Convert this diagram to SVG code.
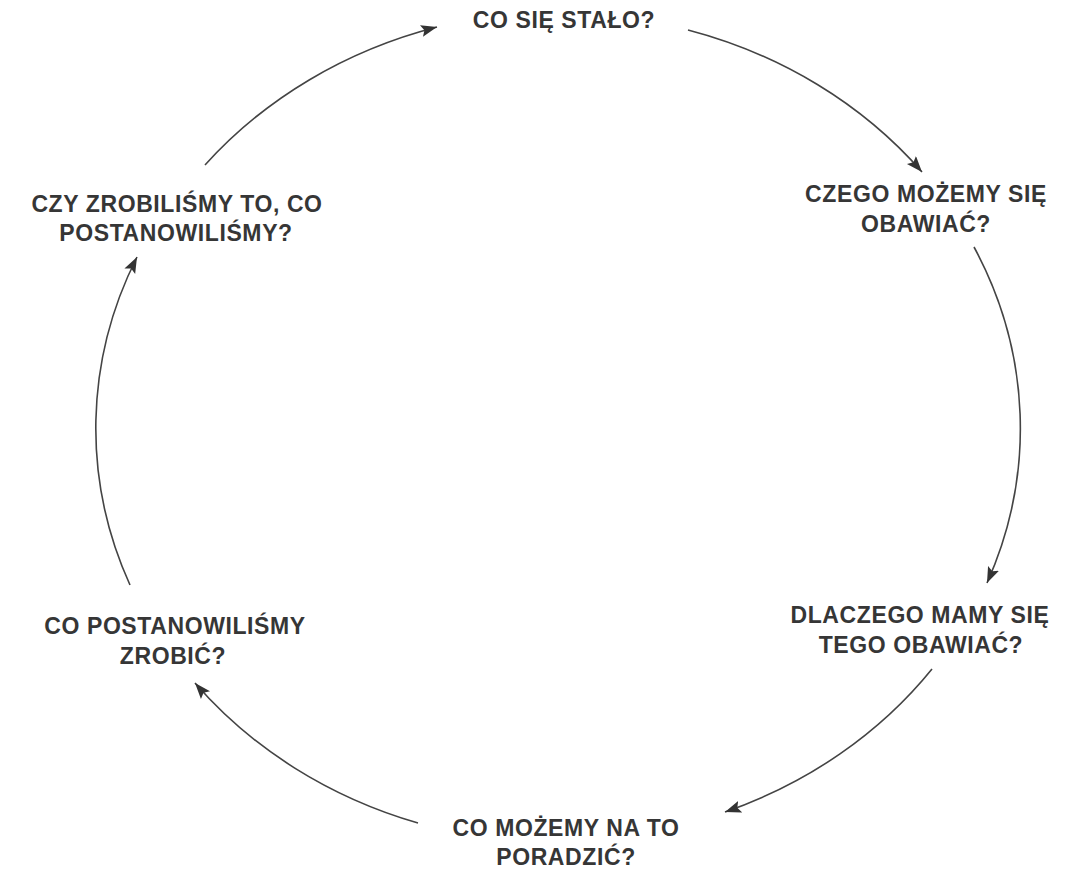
<svg xmlns="http://www.w3.org/2000/svg" width="1076" height="875" viewBox="0 0 1076 875">
<style>
.lbl{font-family:"Liberation Sans",Arial,sans-serif;font-weight:bold;font-size:23px;letter-spacing:0.6px;fill:#363636;text-anchor:middle}
.arc{fill:none;stroke:#444;stroke-width:1.6}
</style>
<defs>
<marker id="ah" markerUnits="userSpaceOnUse" markerWidth="18" markerHeight="14" refX="16" refY="6" orient="auto">
<path d="M0,0 L16,6 L0,12 L3,6 z" fill="#333"/>
</marker>
</defs>
<rect width="1076" height="875" fill="#fff"/>
<g id="connectors">
<path class="arc" d="M688,30 A462,415 0 0 1 922,172" marker-end="url(#ah)"/>
<path class="arc" d="M974,247 A462,415 0 0 1 987,583" marker-end="url(#ah)"/>
<path class="arc" d="M932,669 A462,415 0 0 1 725,812" marker-end="url(#ah)"/>
<path class="arc" d="M418,823 A462,415 0 0 1 195,683" marker-end="url(#ah)"/>
<path class="arc" d="M130,585 A462,415 0 0 1 137,257" marker-end="url(#ah)"/>
<path class="arc" d="M205,165 A462,415 0 0 1 437,27" marker-end="url(#ah)"/>
</g>
<g id="n1"><text class="lbl" x="564" y="28">CO SIĘ STAŁO?</text></g>
<g id="n2"><text class="lbl" x="926" y="202">CZEGO MOŻEMY SIĘ</text><text class="lbl" x="926" y="232">OBAWIAĆ?</text></g>
<g id="n3"><text class="lbl" x="920" y="623">DLACZEGO MAMY SIĘ</text><text class="lbl" x="921" y="653">TEGO OBAWIAĆ?</text></g>
<g id="n4"><text class="lbl" x="566" y="836">CO MOŻEMY NA TO</text><text class="lbl" x="566" y="865">PORADZIĆ?</text></g>
<g id="n5"><text class="lbl" x="175" y="634">CO POSTANOWILIŚMY</text><text class="lbl" x="173" y="664">ZROBIĆ?</text></g>
<g id="n6"><text class="lbl" x="177" y="212">CZY ZROBILIŚMY TO, CO</text><text class="lbl" x="176" y="241">POSTANOWILIŚMY?</text></g>
</svg>
